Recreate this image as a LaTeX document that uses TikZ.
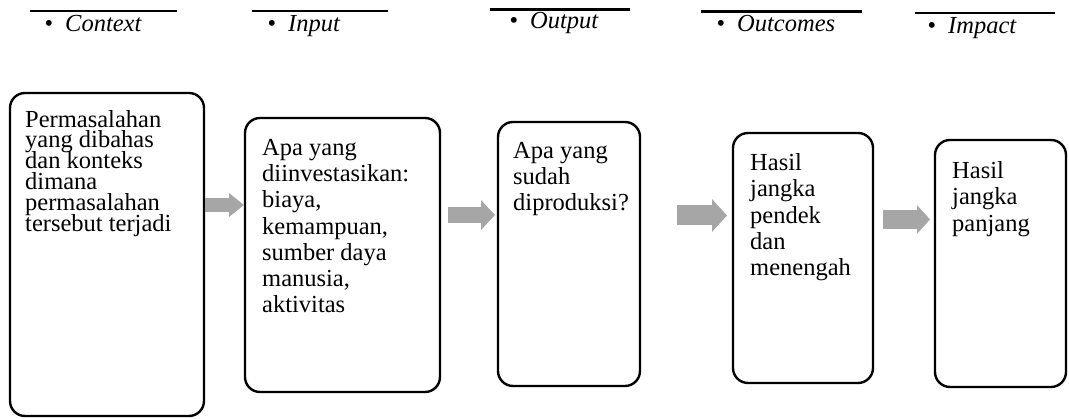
\documentclass[tikz,border=0pt]{standalone}
\usepackage{fontspec}
\setmainfont{Liberation Serif}
\usepackage{tikz}
\usetikzlibrary{arrows.meta}
\definecolor{arrowgray}{HTML}{A6A6A6}
\newcommand{\boxfont}{\fontsize{24.5}{26.3}\selectfont}
\newcommand{\tightfont}{\fontsize{24.5}{20.8}\selectfont\lineskiplimit=-30pt}
\newcommand{\headfont}{\fontsize{24.5}{26}\selectfont}
\tikzstyle{stage} = [rectangle, rounded corners=15pt, draw=black, line width=2.4pt, outer sep=0pt, fill=white]
\tikzstyle{stagetext} = [inner sep=0pt, align=left, font=\boxfont, anchor=north west]
\tikzstyle{heading} = [inner sep=0pt, anchor=base west, font=\headfont]
\tikzstyle{headline} = [line width=2.8pt]
\tikzstyle{flow} = [draw=arrowgray, line width=16pt, -{Triangle[length=14pt, width=29pt]}]

\begin{document}
\begin{tikzpicture}[x=1pt, y=1pt]
\useasboundingbox (0,0) rectangle (1069,419);

% Headings
\draw [headline] (30,408) -- (177,408);
\draw [headline] (252,408) -- (388,408);
\draw [headline] (490,409.7) -- (630,409.7);
\draw [headline] (701,407.7) -- (862,407.7);
\draw [headline] (915,406) -- (1055,406);
\node (context) [heading] at (44.4,387.3) {\textbullet\hspace{12pt}\textit{Context}};
\node (input) [heading] at (267.4,387.3) {\textbullet\hspace{12pt}\textit{Input}};
\node (output) [heading] at (509.4,390.7) {\textbullet\hspace{12pt}\textit{Output}};
\node (outcomes) [heading] at (716.4,387.3) {\textbullet\hspace{12pt}\textit{Outcomes}};
\node (impact) [heading] at (927.4,385.7) {\textbullet\hspace{12pt}\textit{Impact}};

% Boxes
\node (problem) [stage, minimum width=194, minimum height=323] at (107,164.5) {};
\node (invest) [stage, minimum width=195, minimum height=274] at (342.5,164) {};
\node (product) [stage, minimum width=142, minimum height=264] at (569,165) {};
\node (short) [stage, minimum width=140, minimum height=250] at (803,161) {};
\node (long) [stage, minimum width=131, minimum height=247] at (1000.5,155.5) {};

% Box texts
\node (problemtext) [stagetext, font=\tightfont] at ([shift={(15,-17)}]problem.north west)
  {Permasalahan\\yang dibahas\\dan konteks\\dimana\\permasalahan\\tersebut terjadi};
\node (investtext) [stagetext] at ([shift={(17,-20.8)}]invest.north west)
  {Apa yang\\diinvestasikan:\\biaya,\\kemampuan,\\sumber daya\\manusia,\\aktivitas};
\node (producttext) [stagetext] at ([shift={(15,-19.8)}]product.north west)
  {Apa yang\\sudah\\diproduksi?};
\node (shorttext) [stagetext] at ([shift={(17,-20.3)}]short.north west)
  {Hasil\\jangka\\pendek\\dan\\menengah};
\node (longtext) [stagetext] at ([shift={(17,-21.3)}]long.north west)
  {Hasil\\jangka\\panjang};

% Arrows
\coordinate (row1) at (0,214);
\coordinate (row2) at (0,204);
\coordinate (row3) at (0,203.5);
\coordinate (row4) at (0,199.5);
\draw [flow, line width=13.4pt, -{Triangle[length=15pt, width=23pt]}, shorten <=1pt, shorten >=1pt] (problem.east |- row1) -- (invest.west |- row1);
\draw [flow, shorten <=8pt, shorten >=3pt] (invest.east |- row2) -- (product.west |- row2);
\draw [flow, line width=20pt, -{Triangle[length=15pt, width=32pt]}, shorten <=37pt, shorten >=6pt] (product.east |- row3) -- (short.west |- row3);
\draw [flow, line width=19pt, -{Triangle[length=13pt, width=28pt]}, shorten <=10pt, shorten >=5pt] (short.east |- row4) -- (long.west |- row4);

\end{tikzpicture}
\end{document}
